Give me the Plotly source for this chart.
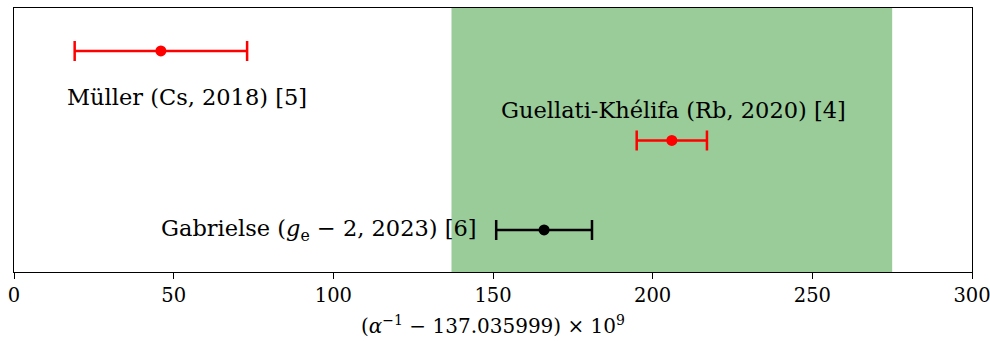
import plotly.graph_objects as go

# Data
labels = ["Müller (Cs, 2018) [5]", "Guellati-Khélifa (Rb, 2020) [4]",
          "Gabrielse (<i>g</i><sub>e</sub> − 2, 2023) [6]"]
values = [46, 206, 166]
errors = [27, 11, 15]
ypos = [3, 2, 1]
colors = ["red", "red", "black"]
band = [137, 275]
xticks = [0, 50, 100, 150, 200, 250, 300]

FONT = "DejaVu Serif"

fig = go.Figure()

fig.add_shape(type="rect", xref="x", yref="paper", x0=band[0], x1=band[1], y0=0, y1=1,
              fillcolor="rgb(153,204,153)", line=dict(width=0), layer="below")

for v, e, y, c in zip(values, errors, ypos, colors):
    fig.add_trace(go.Scatter(
        x=[v], y=[y], mode="markers",
        marker=dict(color=c, size=11),
        error_x=dict(type="data", array=[e], color=c, thickness=2.5, width=10),
        showlegend=False))

anns = [
    dict(x=values[0], y=ypos[0], text=labels[0], xanchor="center", yanchor="middle", xshift=26, yshift=-46),
    dict(x=values[1], y=ypos[1], text=labels[1], xanchor="center", yanchor="middle", xshift=2, yshift=30),
    dict(x=values[2] - errors[2], y=ypos[2], text=labels[2], xanchor="right", yanchor="middle", xshift=-17, yshift=0),
]
for a in anns:
    fig.add_annotation(**a, showarrow=False, font=dict(family=FONT, size=22.5, color="black"))

fig.update_layout(
    width=990, height=341,
    margin=dict(l=14, r=18, t=8, b=69, autoexpand=False),
    paper_bgcolor="white", plot_bgcolor="white",
    font=dict(family=FONT, color="black"),
    xaxis=dict(range=[0, 300], tickvals=xticks, ticks="outside", ticklen=6, tickwidth=1,
               tickcolor="black", showline=True, mirror=True, linecolor="black", linewidth=1,
               showgrid=False, zeroline=False, tickfont=dict(size=19.5, family=FONT),
               ticklabeloverflow="allow", automargin=False,
               title=dict(text="(<i>α</i><sup>−1</sup> − 137.035999) × 10<sup>9</sup>",
                          font=dict(size=20, family=FONT), standoff=12)),
    yaxis=dict(range=[0.53, 3.48], showticklabels=False, ticks="", showline=True, mirror=True,
               linecolor="black", linewidth=1, showgrid=False, zeroline=False),
)

fig.write_html("out.html")
